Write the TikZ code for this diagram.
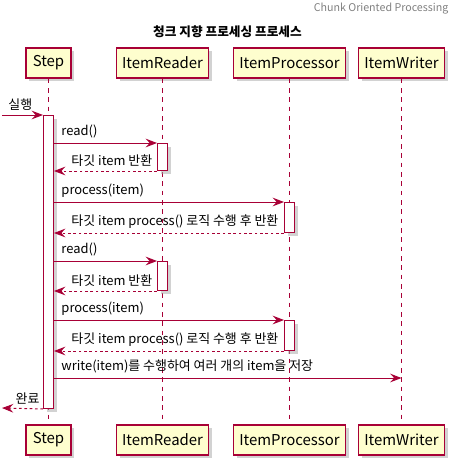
\documentclass[tikz,border=0pt]{standalone}
\usepackage{fontspec}
\setmainfont{Noto Sans CJK KR}
\usetikzlibrary{arrows.meta,shadows,positioning,calc}
\definecolor{umlred}{HTML}{A80036}
\definecolor{umlfill}{HTML}{FEFECE}
\tikzset{
  part/.style={draw=umlred, fill=umlfill, line width=1.1pt, minimum height=30*0.75pt, inner sep=0pt,
    font=\fontsize{11.2}{13}\selectfont, drop shadow={shadow xshift=2.5pt, shadow yshift=-2.5pt, fill=black!35, opacity=0.5}},
  life/.style={draw=umlred, line width=0.7pt, dash pattern=on 3.5pt off 3.5pt},
  act/.style={draw=umlred, fill=white, line width=0.75pt, minimum width=10*0.75pt, inner sep=0pt, anchor=north,
    drop shadow={shadow xshift=2.5pt, shadow yshift=-2.5pt, fill=black!35, opacity=0.5}},
  msg/.style={draw=umlred, line width=0.75pt, -{Stealth[length=8.5pt, width=6.5pt, inset=3pt]}},
  ret/.style={msg, dash pattern=on 2pt off 2pt},
  lbl/.style={font=\fontsize{9.7}{11}\selectfont, inner sep=0pt, yshift=3pt}
}
\begin{document}
\begin{tikzpicture}[x=0.75pt, y=-0.75pt]
    \useasboundingbox (0,0) rectangle (463,465);

    % Title
    \node[anchor=east, text=black!50, font=\fontsize{8}{10}\selectfont] (header) at (453,9) {Chunk Oriented Processing};
    \node[font=\fontsize{9.5}{12}\selectfont\bfseries] (title) at (227.5,32) {청크 지향 프로세싱 프로세스};

    % Participants
    \foreach \n/\x/\w/\t in {step/48.5/45/Step, reader/162.5/92/ItemReader, proc/289.5/112/ItemProcessor, writer/401.5/86/ItemWriter} {
        \node[part, minimum width=\w*0.75pt] (\n-top) at (\x,63) {\t};
        \node[part, minimum width=\w*0.75pt] (\n-bot) at (\x,440) {\t};
        \draw[life] (\n-top) -- (\n-bot);
    }

    % Activations
    \node[act, minimum height=293*0.75pt] (stepAct) at (48.5,115) {};
    \node[act, minimum height=27*0.75pt] (rd1) at (162.5,143) {};
    \node[act, minimum height=30*0.75pt] (pr1) at (289.5,202) {};
    \node[act, minimum height=29*0.75pt] (rd2) at (162.5,261) {};
    \node[act, minimum height=30*0.75pt] (pr2) at (289.5,320) {};
    \coordinate (start) at (2,115);
    \coordinate (finish) at (2,408);

    % Messages
    \draw[msg] (start) -- (stepAct.north west) node[lbl, pos=0, anchor=south west, xshift=6*0.75pt] {실행};
    \draw[msg] (stepAct.east |- rd1.north) -- (rd1.north west) node[lbl, pos=0, anchor=south west, xshift=7*0.75pt] {read()};
    \draw[ret] (rd1.south west) -- (stepAct.east |- rd1.south) node[lbl, pos=1, anchor=south west, xshift=17*0.75pt] {타깃 item 반환};
    \draw[msg] (stepAct.east |- pr1.north) -- (pr1.north west) node[lbl, pos=0, anchor=south west, xshift=7*0.75pt] {process(item)};
    \draw[ret] (pr1.south west) -- (stepAct.east |- pr1.south) node[lbl, pos=1, anchor=south west, xshift=17*0.75pt] {타깃 item process() 로직 수행 후 반환};
    \draw[msg] (stepAct.east |- rd2.north) -- (rd2.north west) node[lbl, pos=0, anchor=south west, xshift=7*0.75pt] {read()};
    \draw[ret] (rd2.south west) -- (stepAct.east |- rd2.south) node[lbl, pos=1, anchor=south west, xshift=17*0.75pt] {타깃 item 반환};
    \draw[msg] (stepAct.east |- pr2.north) -- (pr2.north west) node[lbl, pos=0, anchor=south west, xshift=7*0.75pt] {process(item)};
    \draw[ret] (pr2.south west) -- (stepAct.east |- pr2.south) node[lbl, pos=1, anchor=south west, xshift=17*0.75pt] {타깃 item process() 로직 수행 후 반환};
    \draw[msg] (stepAct.east |- 0,378) -- (writer-top.south |- 0,378) node[lbl, pos=0, anchor=south west, xshift=7*0.75pt] {write(item)를 수행하여 여러 개의 item을 저장};
    \draw[ret] (stepAct.south west) -- (finish) node[lbl, pos=0, anchor=south east, xshift=-3*0.75pt] {완료};
\end{tikzpicture}
\end{document}
